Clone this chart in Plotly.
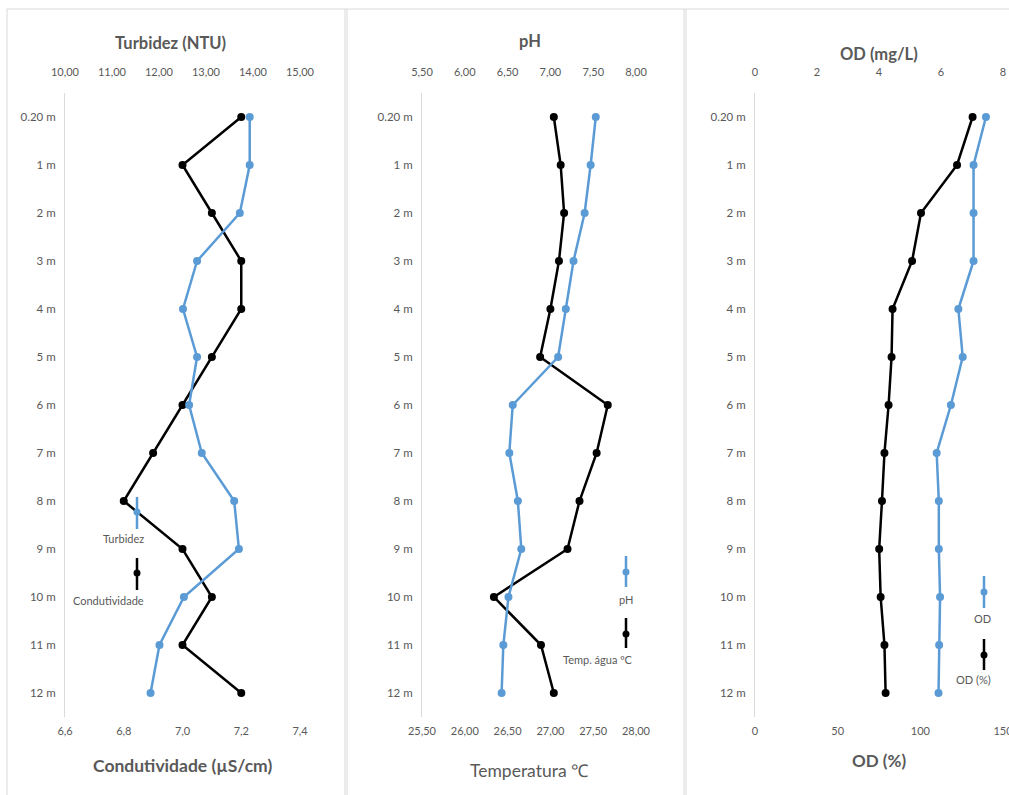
import plotly.graph_objects as go

W, H = 1009, 795

depths = ["0.20 m", "1 m", "2 m", "3 m", "4 m", "5 m", "6 m", "7 m", "8 m", "9 m", "10 m", "11 m", "12 m"]

turbidez = [13.93, 13.93, 13.72, 12.81, 12.51, 12.81, 12.64, 12.91, 13.60, 13.70, 12.53, 12.01, 11.82]
condutividade = [7.2, 7.0, 7.1, 7.2, 7.2, 7.1, 7.0, 6.9, 6.8, 7.0, 7.1, 7.0, 7.2]

ph = [7.53, 7.47, 7.40, 7.27, 7.18, 7.09, 6.56, 6.52, 6.62, 6.66, 6.51, 6.45, 6.43]
temperatura = [27.04, 27.12, 27.16, 27.10, 27.00, 26.88, 27.67, 27.54, 27.34, 27.20, 26.34, 26.89, 27.04]

od_mg = [7.45, 7.05, 7.05, 7.05, 6.56, 6.70, 6.32, 5.86, 5.93, 5.93, 5.97, 5.94, 5.92]
od_pct = [131.6, 122.2, 100.4, 95.0, 83.2, 82.6, 80.8, 78.3, 76.8, 75.1, 76.0, 78.3, 79.0]

BLUE = "#5b9bd5"
BLACK = "#000000"
GRAY = "#595959"
BORDER = "#d9d9d9"
FONT = "Lato"


def px(x):
    return x / W


def py(y):
    return 1 - y / H


fig = go.Figure()


def series(x, xa, ya, color):
    fig.add_trace(go.Scatter(
        x=x, y=depths, xaxis=xa, yaxis=ya, mode="lines+markers",
        line=dict(color=color, width=2.5),
        marker=dict(color=color, size=8),
        showlegend=False, cliponaxis=False,
    ))


series(turbidez, "x2", "y", BLUE)
series(condutividade, "x", "y", BLACK)
series(ph, "x4", "y2", BLUE)
series(temperatura, "x3", "y2", BLACK)
series(od_mg, "x6", "y3", BLUE)
series(od_pct, "x5", "y3", BLACK)

ydom = [py(717), py(93)]
tickfont = dict(family=FONT, size=11, color=GRAY)


def xax(dom, rng, dtick, fmt, anchor, side, overlay=None):
    d = dict(
        range=rng, dtick=dtick, tick0=rng[0], tickformat=fmt, anchor=anchor, side=side,
        showgrid=False, zeroline=False, showline=False, ticks="",
        tickfont=tickfont, ticklabelstandoff=(14 if side == "top" else 6),
        fixedrange=True, automargin=False, ticklabeloverflow="allow",
    )
    if overlay:
        d["overlaying"] = overlay
    else:
        d["domain"] = dom
    return d


def yax(anchor):
    return dict(
        domain=ydom, anchor=anchor, type="category",
        categoryorder="array", categoryarray=depths,
        range=[12.5, -0.5], showgrid=False, zeroline=False,
        showline=True, linecolor=BORDER, linewidth=1, ticks="",
        tickfont=dict(family=FONT, size=11.5, color=GRAY),
        ticklabelstandoff=6, fixedrange=True, automargin=False,
    )


d1 = [px(65), px(300)]
d2 = [px(422), px(636)]
d3 = [px(755), px(1003)]

fig.update_layout(
    width=W, height=H,
    margin=dict(l=0, r=0, t=0, b=0, autoexpand=False),
    paper_bgcolor="white", plot_bgcolor="white",
    separators=",.",
    font=dict(family=FONT, color=GRAY),
    xaxis=xax(d1, [6.6, 7.4], 0.2, ".1f", "y", "bottom"),
    xaxis2=xax(d1, [10, 15], 1, ".2f", "y", "top", overlay="x"),
    xaxis3=xax(d2, [25.5, 28.0], 0.5, ".2f", "y2", "bottom"),
    xaxis4=xax(d2, [5.5, 8.0], 0.5, ".2f", "y2", "top", overlay="x3"),
    xaxis5=xax(d3, [0, 150], 50, "d", "y3", "bottom"),
    xaxis6=xax(d3, [0, 8], 2, "d", "y3", "top", overlay="x5"),
    yaxis=yax("x"),
    yaxis2=yax("x3"),
    yaxis3=yax("x5"),
)

shapes = []
# panel borders
for x in [7, 345, 347, 684, 686]:
    shapes.append(dict(type="line", xref="paper", yref="paper",
                       x0=px(x), x1=px(x), y0=py(9), y1=py(800),
                       line=dict(color=BORDER, width=1)))
shapes.append(dict(type="line", xref="paper", yref="paper",
                   x0=px(7), x1=px(1012), y0=py(9), y1=py(9),
                   line=dict(color=BORDER, width=1)))

annotations = []


def title(text, x, y, size, bold=True):
    annotations.append(dict(
        text=f"<b>{text}</b>" if bold else text, x=px(x), y=py(y),
        xref="paper", yref="paper", showarrow=False,
        xanchor="center", yanchor="middle",
        font=dict(family=FONT, size=size, color=GRAY)))


title("Turbidez (NTU)", 170, 43, 16.5)
title("Condutividade (µS/cm)", 182, 765, 17.5)
title("pH", 530, 41, 16.5)
title("Temperatura ℃", 529, 770, 17.5, bold=False)
title("OD (mg/L)", 879, 54, 16.5)
title("OD (%)", 879, 760, 17)


def legend_item(x, y0, y1, ydot, color, label, ylab):
    shapes.append(dict(type="line", xref="paper", yref="paper",
                       x0=px(x), x1=px(x), y0=py(y0), y1=py(y1),
                       line=dict(color=color, width=2.5)))
    r = 3.5
    shapes.append(dict(type="circle", xref="paper", yref="paper",
                       x0=px(x - r), x1=px(x + r), y0=py(ydot - r), y1=py(ydot + r),
                       fillcolor=color, line=dict(color=color, width=0)))
    annotations.append(dict(
        text=label, x=px(x + 9), y=py(ylab), xref="paper", yref="paper",
        showarrow=False, xanchor="right", yanchor="middle",
        font=dict(family=FONT, size=11, color=GRAY)))


legend_item(137, 497, 529, 512, BLUE, "Turbidez", 538)
legend_item(137, 558, 590, 573, BLACK, "Condutividade", 600)
legend_item(626, 556, 587, 572, BLUE, "pH", 599)
legend_item(626, 618, 648, 634, BLACK, "Temp. água ºC", 659)
legend_item(984, 576, 608, 592, BLUE, "OD", 618)
legend_item(984, 639, 670, 655, BLACK, "OD (%)", 679)

fig.update_layout(shapes=shapes, annotations=annotations)

fig.write_html("out.html")
